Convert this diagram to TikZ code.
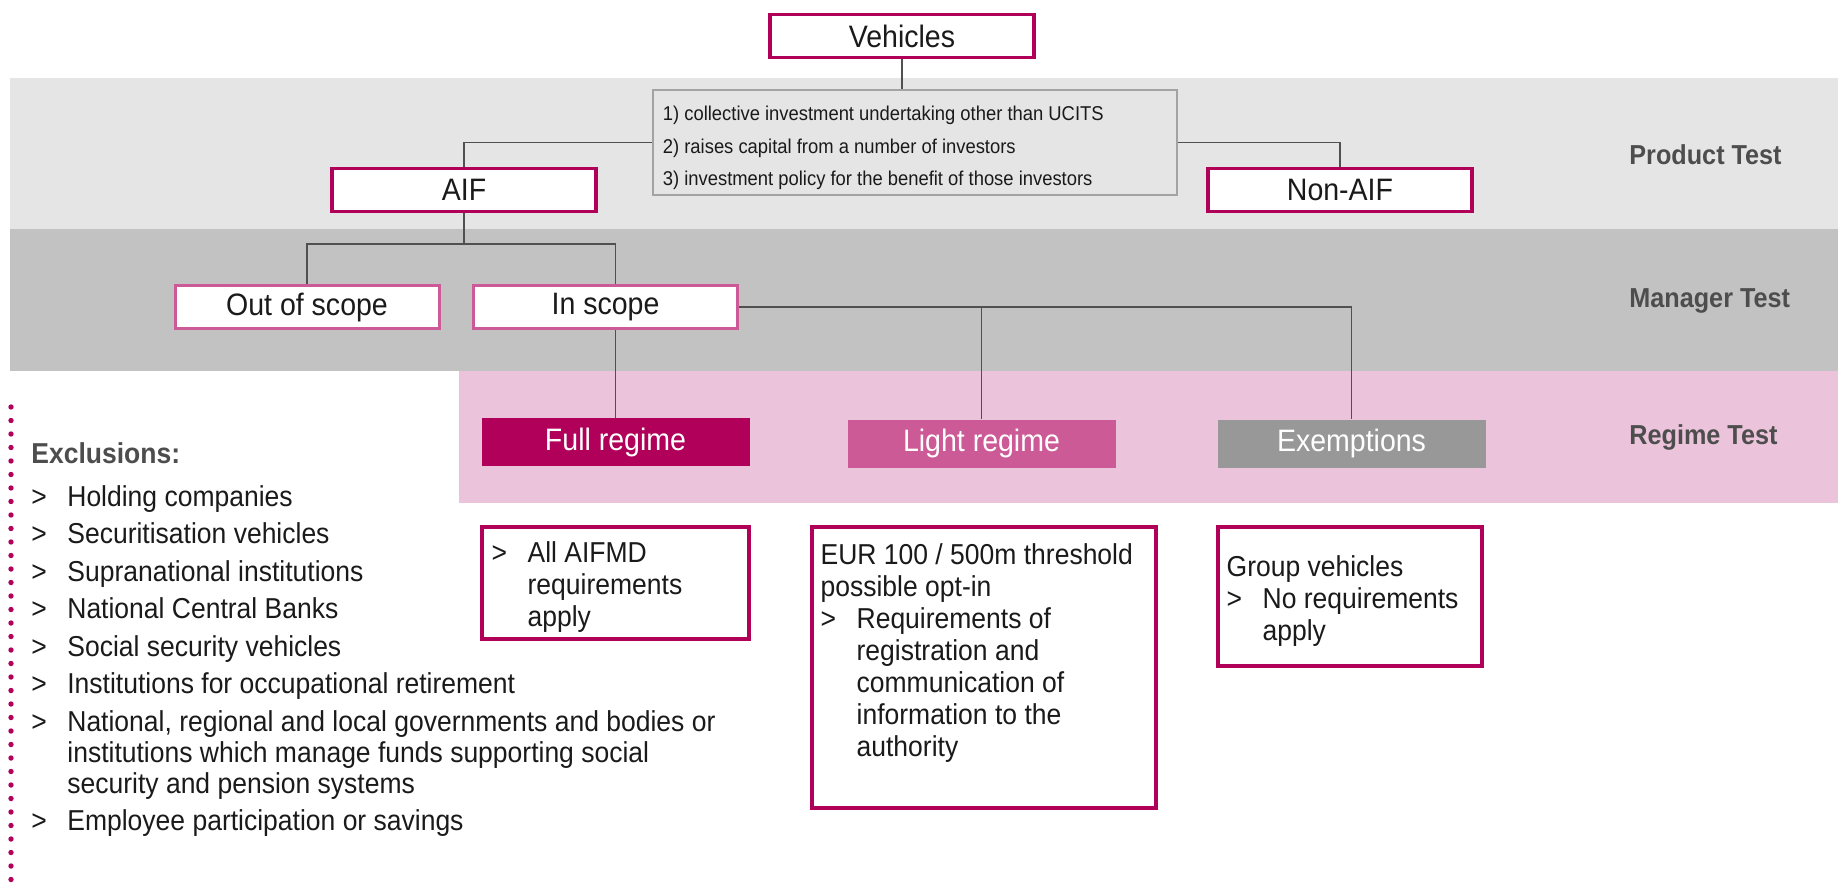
\documentclass[tikz,border=0pt]{standalone}
\usepackage{fontspec}
\setmainfont{Liberation Sans}[FakeStretch = 0.92]

\definecolor{aifmag}{HTML}{B0005A}
\definecolor{aifpink}{HTML}{CC5A96}
\definecolor{aifgrey}{HTML}{989898}
\definecolor{bandone}{HTML}{E5E5E5}
\definecolor{bandtwo}{HTML}{C2C2C2}
\definecolor{bandthree}{HTML}{EBC3DA}
\definecolor{critgrey}{HTML}{A3A3A3}
\definecolor{linkgrey}{HTML}{505050}
\definecolor{testgrey}{HTML}{4D4D4D}
\definecolor{bodytext}{HTML}{1A1A1A}

\newcommand{\itemmark}{\makebox[18pt][l]{>}}

\tikzset{
	titlebox/.style = {draw = aifmag, line width = 1.75pt, fill = white, text = bodytext, minimum width = 132pt, minimum height = 21.5pt, inner sep = 0pt, font = \fontsize{15.5}{17}\selectfont},
	scopebox/.style = {titlebox, draw = aifpink, line width = 1.5pt},
	regimebox/.style = {fill = #1, text = white, minimum width = 134pt, minimum height = 24pt, inner sep = 0pt, font = \fontsize{15.5}{17}\selectfont},
	critbox/.style = {draw = critgrey, line width = 1pt, fill = bandone, minimum width = 262pt, minimum height = 52.5pt, inner sep = 0pt},
	crittext/.style = {anchor = north west, inner sep = 0pt, align = left, text = bodytext, font = \fontsize{10}{16.25}\selectfont},
	descbox/.style = {draw = aifmag, line width = 1.75pt, fill = white, inner sep = 0pt},
	desctext/.style = {anchor = north west, inner sep = 0pt, text = bodytext, font = \fontsize{14.4}{16}\selectfont},
	testlabel/.style = {anchor = west, inner sep = 0pt, text = testgrey, font = \bfseries\fontsize{13.7}{15}\selectfont},
	link/.style = {draw = linkgrey, line width = 0.75pt},
}

\begin{document}
\begin{tikzpicture}[x = 0.5pt, y = -0.5pt]
	\useasboundingbox (0, 0) rectangle (1838, 884);
	\fill [bandone] (10, 78) rectangle (1838, 229);
	\fill [bandtwo] (10, 229) rectangle (1838, 371);
	\fill [bandthree] (459, 371) rectangle (1838, 503);

	\node (veh) at (902, 36) [titlebox] {Vehicles};
	\node (crit) at (914.5, 142.5) [critbox] {};
	\node (crittxt) at ([shift = {(11, 17)}] crit.north west) [crittext] {1) collective investment undertaking other than UCITS\\2) raises capital from a number of investors\\3) investment policy for the benefit of those investors};
	\node (aif) at (464, 190) [titlebox] {AIF};
	\node (nonaif) at (1340, 190) [titlebox] {Non-AIF};
	\node (outs) at (307, 307) [scopebox] {Out of scope};
	\node (ins) at (605.5, 307) [scopebox] {In scope};
	\node (full) at (615.5, 442) [regimebox = aifmag] {Full regime};
	\node (light) at (981.5, 443.5) [regimebox = aifpink] {Light regime};
	\node (exm) at (1351.5, 443.5) [regimebox = aifgrey] {Exemptions};

	\node (ptest) at (1629, 155) [testlabel] {Product Test};
	\node (mtest) at (1629, 301) [testlabel] {Manager Test};
	\node (rtest) at (1629, 437) [testlabel] {Regime Test};

	\coordinate (split) at (464, 244);
	\draw [link] (veh.south) -- (veh.south |- crit.north);
	\draw [link] (crit.west) -| (aif.north);
	\draw [link] (crit.east) -| (nonaif.north);
	\draw [link] (aif.south) -- (split);
	\draw [link] (outs.north) |- (split) -| (ins.north -| full.north);
	\draw [link] (ins.south -| full.north) -- (full.north);
	\draw [link] (ins.east) -| (exm.north);
	\draw [link] (ins.east -| light.north) -- (light.north);

	\node (fdesc) at (615.5, 583) [descbox, minimum width = 133.5pt, minimum height = 56pt] {};
	\node (ldesc) at (984, 667.5) [descbox, minimum width = 172pt, minimum height = 140.5pt] {};
	\node (edesc) at (1350, 596.5) [descbox, minimum width = 132pt, minimum height = 69.5pt] {};

	\node (ftext) at ([shift = {(11, 14)}] fdesc.north west) [desctext] {\begin{tabular}{@{}l@{}l@{}}\itemmark & All AIFMD\\ & requirements\\ & apply\end{tabular}};
	\node (ltext) at ([shift = {(10, 16)}] ldesc.north west) [desctext] {\begin{tabular}{@{}l@{}l@{}}\multicolumn{2}{@{}l@{}}{EUR 100 / 500m threshold}\\\multicolumn{2}{@{}l@{}}{possible opt-in}\\\itemmark & Requirements of\\ & registration and\\ & communication of\\ & information to the\\ & authority\end{tabular}};
	\node (etext) at ([shift = {(10, 28)}] edesc.north west) [desctext] {\begin{tabular}{@{}l@{}l@{}}\multicolumn{2}{@{}l@{}}{Group vehicles}\\\itemmark & No requirements\\ & apply\end{tabular}};

	\foreach \y in {407, 420.5, ..., 884}
		\fill [aifmag] (11, \y) circle (1.35pt);
	\node (excl) at (31, 441) [anchor = north west, inner sep = 0pt, text = bodytext, font = \fontsize{14.4}{15.5}\selectfont] {\begin{tabular}{@{}l@{}l@{}}\multicolumn{2}{@{}l@{}}{\color{testgrey}\bfseries Exclusions:}\\[6pt]
		\itemmark & Holding companies\\[3.25pt]
		\itemmark & Securitisation vehicles\\[3.25pt]
		\itemmark & Supranational institutions\\[3.25pt]
		\itemmark & National Central Banks\\[3.25pt]
		\itemmark & Social security vehicles\\[3.25pt]
		\itemmark & Institutions for occupational retirement\\[3.25pt]
		\itemmark & National, regional and local governments and bodies or\\
		 & institutions which manage funds supporting social\\
		 & security and pension systems\\[3.25pt]
		\itemmark & Employee participation or savings\end{tabular}};
\end{tikzpicture}
\end{document}
